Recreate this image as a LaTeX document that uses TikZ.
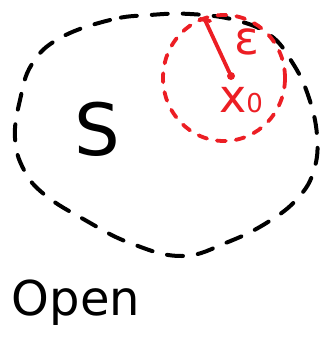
\documentclass[tikz,border=0pt]{standalone}
\usepackage{fontspec}
\setsansfont{DejaVu Sans}
\usepackage{tikz}
\usetikzlibrary{positioning,calc}
\definecolor{penred}{RGB}{236,30,36}

\begin{document}
\begin{tikzpicture}[x=1pt, y=-1pt, line cap=round, line join=round,
  blobline/.style={line width=4pt, dash pattern=on 16pt off 15pt},
  ballline/.style={penred, line width=3.8pt, dash pattern=on 9pt off 10pt},
  lbl/.style={font=\sffamily\fontsize{48}{48}\selectfont},
  redlbl/.style={penred, font=\sffamily\fontsize{46}{46}\selectfont}]
\useasboundingbox (0,0) rectangle (324,348);
% the set S
\draw[blobline] plot[smooth cycle, tension=0.7] coordinates {
  (150,15) (110,20) (60,38) (32,64) (20,100) (15,138) (24,170)
  (45,195) (85,220) (130,243) (182,256) (228,242) (268,222)
  (298,198) (314,170) (317,135) (308,95) (292,62) (270,35) (235,20) (190,14)};
\node[lbl, font=\sffamily\fontsize{72}{72}\selectfont] (S) at (97,129) {S};
% the ball around x0
\node[circle, fill=penred, inner sep=0pt, minimum size=8pt] (x0) at (231,76) {};
\draw[ballline] (224,78) ellipse (61pt and 63pt);
\coordinate (rim) at (205,20);
\draw[penred, line width=3.8pt] (x0) -- (rim);
\draw[penred, line width=3.8pt] ($(rim)+(-5,-1)$) -- ($(rim)+(5,1)$);
\node[redlbl] (eps) at (247,42) {ε};
\node[redlbl, anchor=base] (x0lbl) at (241,112) {x{\fontsize{26}{26}\selectfont 0}};
\node[lbl] (open) at (76,303) {Open};
\end{tikzpicture}
\end{document}
